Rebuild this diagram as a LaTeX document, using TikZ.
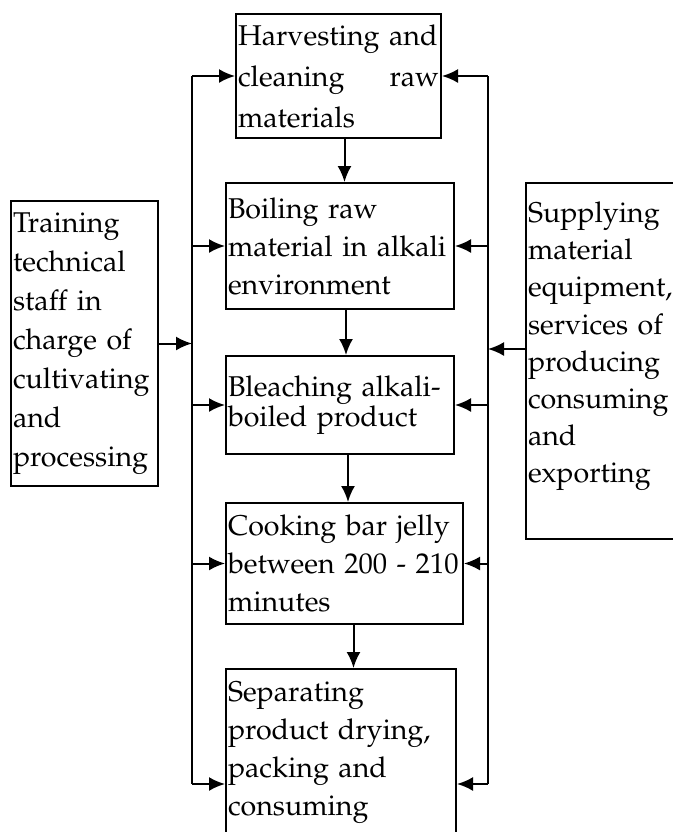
\documentclass[tikz,border=0pt]{standalone}
\usepackage[T1]{fontenc}
\usepackage{mathpazo}
\usetikzlibrary{arrows.meta}
\usetikzlibrary{positioning, calc}

\begin{document}
\begin{tikzpicture}[x=0.5pt, y=-0.5pt, line width=1pt,
    >={Latex[length=8pt,width=7pt]},
    stage/.style={draw, anchor=north west, inner xsep=1pt, align=left,
      font={\fontsize{14.3}{19}\selectfont\hyphenpenalty=10000\exhyphenpenalty=10000}}]
      \def\lx{192}
      \def\rx{488}

      \clip (0,0) rectangle (673,832);

      % STAGES
      \node[stage, text width=100.5pt, minimum height=62pt,
        font={\fontsize{14.3}{20.5}\selectfont}] (harvest) at (235,13)
        {Harvesting~and\\ cleaning\hfill raw\\ materials};
      \node[stage, text width=112pt, minimum height=63pt] (boil) at (225,182)
        {Boiling~raw\\ material~in~alkali\\ environment};
      \node[stage, text width=112pt, minimum height=49pt,
        font={\fontsize{14.3}{15}\selectfont}] (bleach) at (225,355)
        {Bleaching~alkali-\\ boiled~product};
      \node[stage, text width=116.5pt, minimum height=60.5pt] (cook) at (225,502)
        {Cooking~bar~jelly\\ between~200~-~210\\ minutes};
      \node[stage, text width=113pt, minimum height=84pt] (separate) at (225,668)
        {Separating\\ product~drying,\\ packing~and\\ consuming};

      % SIDE BOXES
      \node[stage, text width=71.5pt, minimum height=142.5pt,
        font={\fontsize{14.3}{19.5}\selectfont}] (train) at (10,200)
        {Training\\ technical\\ staff~in\\ charge~of\\ cultivating\\ and\\ processing};
      \node[stage, text width=85.5pt, minimum height=178pt,
        font={\fontsize{14.3}{18.6}\selectfont}] (supply) at (525,182)
        {Supplying\\ material\\ equipment,\\ services~of\\ producing\\ consuming\\ and\\ exporting\\ \mbox{}};

      \coordinate (lbus) at (\lx,0);
      \coordinate (rbus) at (\rx,0);
      \coordinate (sepl) at ([yshift=-15.5pt]separate.west);
      \coordinate (sepr) at ([yshift=-15.5pt]separate.east);

      % MAIN FLOW
      \draw[->] ([xshift=3pt]harvest.south) -- ([xshift=3pt]harvest.south |- boil.north);
      \draw[->] ([xshift=3pt]boil.south) -- ([xshift=3pt]boil.south |- bleach.north);
      \draw[->] ([xshift=4pt]bleach.south) -- ([xshift=4pt]bleach.south |- cook.north);
      \draw[->] ([xshift=4.5pt]cook.south) -- ([xshift=4.5pt]cook.south |- separate.north);

      % BUSES
      \draw (lbus |- harvest.west) -- (lbus |- sepl);
      \draw (rbus |- harvest.east) -- (rbus |- sepr);
      \foreach \n in {harvest,boil,bleach,cook}
      {
        \draw[->] (lbus |- \n.west) -- (\n.west);
        \draw[->] (rbus |- \n.east) -- (\n.east);
      }
      \draw[->] (lbus |- sepl) -- (sepl);
      \draw[->] (rbus |- sepr) -- (sepr);
      \draw[->] (train.east) -- (train.east -| lbus);
      \draw[->] ([yshift=6pt]supply.west) -- ([yshift=6pt]supply.west -| rbus);
    \end{tikzpicture}
\end{document}
